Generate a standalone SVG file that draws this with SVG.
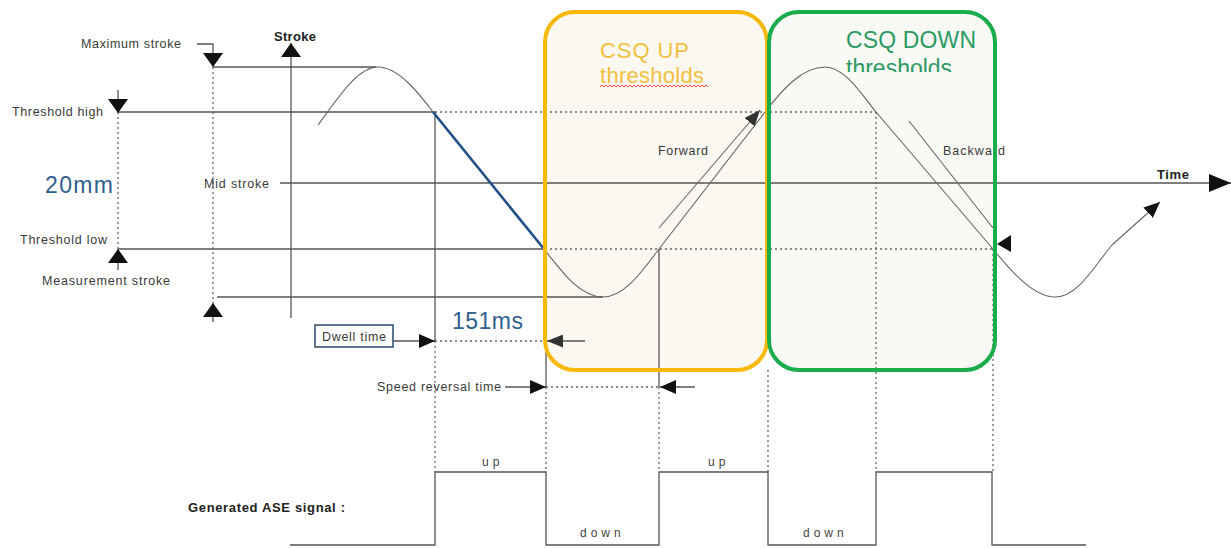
<svg xmlns="http://www.w3.org/2000/svg" width="1231" height="548" viewBox="0 0 1231 548">
<style>
.ln{stroke:#555;stroke-width:1.3;fill:none}
.dot{stroke:#666;stroke-width:1.3;fill:none;stroke-dasharray:2 3}
.crv{stroke:#666;stroke-width:1.1;fill:none}
.lbl{font-family:"Liberation Sans",Arial,sans-serif;font-size:12.5px;fill:#3a3a3a}
.bold{font-family:"Liberation Sans",Arial,sans-serif;font-size:13px;font-weight:bold;fill:#222}
.sig{font-family:"Liberation Sans",Arial,sans-serif;font-size:12px;fill:#444;letter-spacing:4px}
.big{font-family:"Liberation Sans",Arial,sans-serif;font-size:23px;fill:#2f5f8c}
</style>
<defs>
<marker id="ah" viewBox="0 0 10 10" refX="10" refY="5" markerWidth="16" markerHeight="14" markerUnits="userSpaceOnUse" orient="auto" preserveAspectRatio="none"><path d="M0,0 L10,5 L0,10 z" fill="#111"/></marker>
<marker id="ahs" viewBox="0 0 10 10" refX="10" refY="5" markerWidth="14" markerHeight="20" markerUnits="userSpaceOnUse" orient="auto" preserveAspectRatio="none"><path d="M0,0 L10,5 L0,10 z" fill="#111"/></marker>
<marker id="ahT" viewBox="0 0 10 10" refX="10" refY="5" markerWidth="22" markerHeight="18" markerUnits="userSpaceOnUse" orient="auto" preserveAspectRatio="none"><path d="M0,0 L10,5 L0,10 z" fill="#111"/></marker>
<marker id="ahg" viewBox="0 0 10 10" refX="10" refY="5" markerWidth="16" markerHeight="13" markerUnits="userSpaceOnUse" orient="auto" preserveAspectRatio="none"><path d="M0,0 L10,5 L0,10 z" fill="#333"/></marker>
<clipPath id="clipDown"><rect x="840" y="0" width="160" height="72"/></clipPath>
</defs>

<g id="box-fills">
<rect x="545" y="12" width="222" height="358" rx="30" fill="#fbf8f2"/>
<rect x="769" y="12" width="226" height="358" rx="30" fill="#f9f9f6"/>
</g>

<g id="connectors">
<line class="ln" x1="213" y1="67" x2="376" y2="67"/>
<line class="ln" x1="118" y1="112" x2="435" y2="112"/>
<line class="dot" x1="435" y1="112" x2="876" y2="112"/>
<line class="ln" x1="280" y1="183" x2="1231" y2="183" marker-end="url(#ahT)"/>
<line class="ln" x1="118" y1="249" x2="545" y2="249"/>
<line class="dot" x1="545" y1="249" x2="994" y2="249"/>
<line class="ln" x1="217" y1="297" x2="603" y2="297"/>
<line class="ln" x1="291" y1="318" x2="291" y2="43" marker-end="url(#ahs)"/>
<line class="dot" x1="213" y1="67" x2="213" y2="303"/>
<line class="dot" x1="118" y1="112" x2="118" y2="249"/>
<path class="ln" d="M197,44 H213 V67" marker-end="url(#ahs)"/>
<path class="ln" d="M213,322 V303" marker-end="url(#ahs)"/>
<path class="ln" d="M118,90 V113" marker-end="url(#ahs)"/>
<path class="ln" d="M118,270 V249" marker-end="url(#ahs)"/>
<line class="ln" x1="435" y1="112" x2="435" y2="341"/>
<line class="dot" x1="435" y1="341" x2="435" y2="472"/>
<line class="ln" x1="546" y1="249" x2="546" y2="387"/>
<line class="dot" x1="546" y1="387" x2="546" y2="472"/>
<line class="ln" x1="659" y1="249" x2="659" y2="387"/>
<line class="dot" x1="659" y1="387" x2="659" y2="472"/>
<line class="dot" x1="768" y1="370" x2="768" y2="472"/>
<line class="dot" x1="876" y1="112" x2="876" y2="472"/>
<line class="dot" x1="993" y1="249" x2="993" y2="472"/>
<path class="crv" d="M318,125 C340,95 358,67 378,67 C398,67 418,92 433,112"/>
<line x1="433" y1="112" x2="544" y2="249" stroke="#1f4f86" stroke-width="2.6"/>
<path class="crv" d="M544,249 C563,273 580,297 603,297 C625,297 643,270 659,249 L765,112 C782,90 802,67 825,67 C845,67 862,95 876,112 L993,249 C1010,270 1033,297 1055,297 C1078,297 1095,265 1112,245 L1160,202" marker-end="url(#ah)"/>
<line class="crv" x1="659" y1="228" x2="760" y2="110" marker-end="url(#ahg)"/>
<line class="crv" x1="909" y1="121" x2="993" y2="228"/>
<polygon points="997,244 1011,235 1011,252" fill="#111"/>
<line class="ln" x1="393" y1="341" x2="435" y2="341" marker-end="url(#ah)"/>
<line class="dot" x1="435" y1="341" x2="546" y2="341"/>
<line class="ln" x1="585" y1="341" x2="547" y2="341" marker-end="url(#ahg)"/>
<line class="ln" x1="505" y1="387" x2="546" y2="387" marker-end="url(#ah)"/>
<line class="dot" x1="546" y1="387" x2="659" y2="387"/>
<line class="ln" x1="695" y1="387" x2="660" y2="387" marker-end="url(#ah)"/>
<path class="ln" d="M290,545 H435 V472 H546 V545 H659 V472 H768 V545 H876 V472 H992 V545 H1086" stroke="#666" stroke-width="1.6"/>
</g>

<g id="labels">
<text class="lbl" x="81" y="48" textLength="100">Maximum stroke</text>
<text class="lbl" x="12" y="116" textLength="91">Threshold high</text>
<text class="big" x="45" y="193" textLength="68">20mm</text>
<text class="lbl" x="20" y="244" textLength="87">Threshold low</text>
<text class="lbl" x="42" y="285" textLength="128">Measurement stroke</text>
<text class="lbl" x="204" y="188" textLength="65">Mid stroke</text>
<text class="bold" x="274" y="41" textLength="42">Stroke</text>
<text class="bold" x="1157" y="179" textLength="32">Time</text>
<text class="lbl" x="658" y="155" textLength="50" fill="#555">Forward</text>
<text class="lbl" x="943" y="155" textLength="62" fill="#555">Backward</text>
<text class="big" x="452" y="329" textLength="71">151ms</text>
<text class="lbl" x="377" y="391" textLength="124">Speed reversal time</text>
<text class="bold" x="188" y="512" textLength="157">Generated ASE signal :</text>
<text class="sig" x="482" y="466">up</text>
<text class="sig" x="580" y="537">down</text>
<text class="sig" x="708" y="466">up</text>
<text class="sig" x="803" y="537">down</text>
</g>

<g id="dwell-time">
<rect x="315" y="325" width="78" height="22" fill="#fff" stroke="#2b4a6e" stroke-width="1.5"/>
<text class="lbl" x="322" y="341" textLength="64" fill="#333">Dwell time</text>
</g>

<g id="csq-up">
<text x="600" y="58" font-family="'Liberation Sans',Arial,sans-serif" font-size="22" fill="#f2c040" textLength="89">CSQ UP</text>
<text x="600" y="83" font-family="'Liberation Sans',Arial,sans-serif" font-size="22" fill="#f2c040" textLength="104">thresholds</text>
<path d="M600,87 l2,-2 l2,2 l2,-2 l2,2 l2,-2 l2,2 l2,-2 l2,2 l2,-2 l2,2 l2,-2 l2,2 l2,-2 l2,2 l2,-2 l2,2 l2,-2 l2,2 l2,-2 l2,2 l2,-2 l2,2 l2,-2 l2,2 l2,-2 l2,2 l2,-2 l2,2 l2,-2 l2,2 l2,-2 l2,2 l2,-2 l2,2 l2,-2 l2,2 l2,-2 l2,2 l2,-2 l2,2 l2,-2 l2,2 l2,-2 l2,2 l2,-2 l2,2 l2,-2 l2,2 l2,-2 l2,2 l2,-2 l2,2 l2,-2 l2,2" fill="none" stroke="#e0302a" stroke-width="0.9"/>
<rect x="545" y="12" width="222" height="358" rx="30" fill="none" stroke="#f6b90a" stroke-width="4"/>
</g>

<g id="csq-down">
<text x="846" y="48" font-family="'Liberation Sans',Arial,sans-serif" font-size="23" fill="#2a9a62" textLength="130">CSQ DOWN</text>
<text x="846" y="76" font-family="'Liberation Sans',Arial,sans-serif" font-size="23" fill="#2a9a62" clip-path="url(#clipDown)">thresholds</text>
<rect x="769" y="12" width="226" height="358" rx="30" fill="none" stroke="#1aad4b" stroke-width="4"/>
</g>
</svg>
